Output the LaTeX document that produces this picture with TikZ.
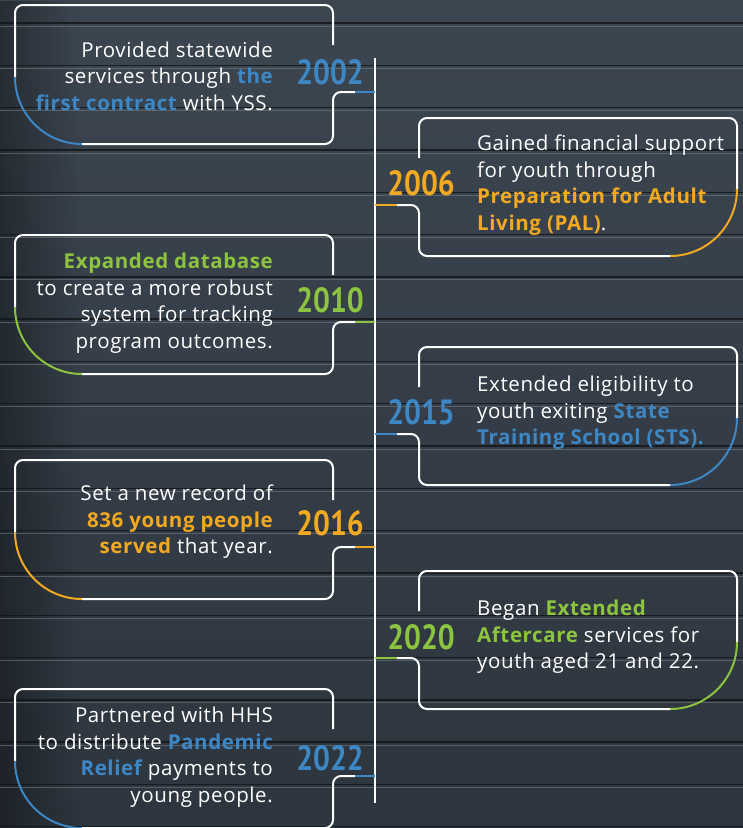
\documentclass[tikz,border=0pt]{standalone}
\usepackage{fontspec}
\setmainfont[LetterSpace=3]{Open Sans}
\newfontfamily\yearfont{PT Sans}
\usetikzlibrary{fadings}

\newcommand{\keyword}[2]{\textcolor{#1}{\bfseries #2}}

% card on the left of the line: #1 top, #2 colour, #3 name of the stub end
\newcommand{\leftcard}[3]{%
  \coordinate (#3) at (375,{#1+87});
  \draw[frame] (333,{#1+40}) -- (333,#1) -- (15,#1) -- (15,{#1+72});
  \draw[accent,draw=#2] (15,{#1+72}) .. controls (15,{#1+109}) and (45,{#1+139}) .. (82,{#1+139});
  \draw[frame] (82,{#1+139}) -- (333,{#1+139}) -- (333,{#1+87}) -- (355,{#1+87});
  \draw[accent,draw=#2] (355,{#1+87}) -- (#3);
}
% card on the right of the line
\newcommand{\rightcard}[3]{%
  \coordinate (#3) at (375,{#1+87});
  \draw[frame] (419,{#1+40}) -- (419,#1) -- (737,#1) -- (737,{#1+71});
  \draw[accent,draw=#2] (737,{#1+71}) .. controls (737,{#1+108}) and (707,{#1+138}) .. (670,{#1+138});
  \draw[frame] (670,{#1+138}) -- (419,{#1+138}) -- (419,{#1+87}) -- (397,{#1+87});
  \draw[accent,draw=#2] (397,{#1+87}) -- (#3);
}

\tikzset{
  frame/.style={draw=white, line width=2pt, rounded corners=8pt},
  accent/.style={line width=2pt},
  body/.style={text=white, font=\fontsize{20.5}{26.5}\selectfont, inner sep=0pt},
  year/.style={font=\yearfont\bfseries\fontsize{35}{35}\selectfont, xscale=0.85, inner sep=0pt},
  stripe/.style={draw=black!70!slate, line width=1.4pt, opacity=0.8},
  glint/.style={draw=white!35!slate, line width=0.8pt, opacity=0.5}
}

\begin{document}
\begin{tikzpicture}[x=1pt, y=-1pt]
  \definecolor{slate}{HTML}{3C4651}
  \definecolor{slatedark}{HTML}{2D353E}
  \definecolor{ysblue}{HTML}{3E87C5}
  \definecolor{ysorange}{HTML}{F2A922}
  \definecolor{ysgreen}{HTML}{8CC43F}
  \useasboundingbox (0,0) rectangle (743,828);
  \shade[top color=slate, bottom color=slatedark] (0,0) rectangle (743,828);
  \fill[black, opacity=0.35, path fading=east] (0,0) rectangle (80,828);
  \foreach \k in {0,...,19}{
    \draw[stripe] (0,{23+42.3*\k}) -- (743,{23+42.3*\k});
    \draw[glint] (0,{26+42.3*\k}) -- (743,{26+42.3*\k});
  }

  \coordinate (top) at (375,58);
  \coordinate (bottom) at (375,803);
  \draw[white, line width=2pt] (top) -- (bottom);

  \leftcard{5}{ysblue}{c2002}
  \rightcard{118}{ysorange}{c2006}
  \leftcard{235}{ysgreen}{c2010}
  \rightcard{347}{ysblue}{c2015}
  \leftcard{460}{ysorange}{c2016}
  \rightcard{571}{ysgreen}{c2020}
  \leftcard{689}{ysblue}{c2022}

  \node[year, text=ysblue] (y2002) at (330,72) {2002};
  \node[year, text=ysorange] (y2006) at (421,183) {2006};
  \node[year, text=ysgreen] (y2010) at (330,300) {2010};
  \node[year, text=ysblue] (y2015) at (421,412) {2015};
  \node[year, text=ysorange] (y2016) at (330,523) {2016};
  \node[year, text=ysgreen] (y2020) at (421,637) {2020};
  \node[year, text=ysblue] (y2022) at (330,758) {2022};

  \node[body, align=right, anchor=east] (t2002) at (273,76)
    {Provided statewide\\services through \keyword{ysblue}{the}\\\keyword{ysblue}{first contract} with YSS.};
  \node[body, align=left, anchor=west] (t2006) at (477,185)
    {Gained financial support\\for youth through\\\keyword{ysorange}{Preparation for Adult}\\\keyword{ysorange}{Living (PAL)}.};
  \node[body, align=right, anchor=east] (t2010) at (273,303)
    {\keyword{ysgreen}{Expanded database}\\to create a more robust\\system for tracking\\program outcomes.};
  \node[body, align=left, anchor=west] (t2015) at (477,413)
    {Extended eligibility to\\youth exiting \keyword{ysblue}{State}\\\keyword{ysblue}{Training School (STS).}};
  \node[body, align=right, anchor=east] (t2016) at (273,522)
    {Set a new record of\\\keyword{ysorange}{836 young people}\\\keyword{ysorange}{served} that year.};
  \node[body, align=left, anchor=west] (t2020) at (477,637)
    {Began \keyword{ysgreen}{Extended}\\\keyword{ysgreen}{Aftercare} services for\\youth aged 21 and 22.};
  \node[body, align=right, anchor=east] (t2022) at (273,757)
    {Partnered with HHS\\to distribute \keyword{ysblue}{Pandemic}\\\keyword{ysblue}{Relief} payments to\\young people.};
\end{tikzpicture}
\end{document}
